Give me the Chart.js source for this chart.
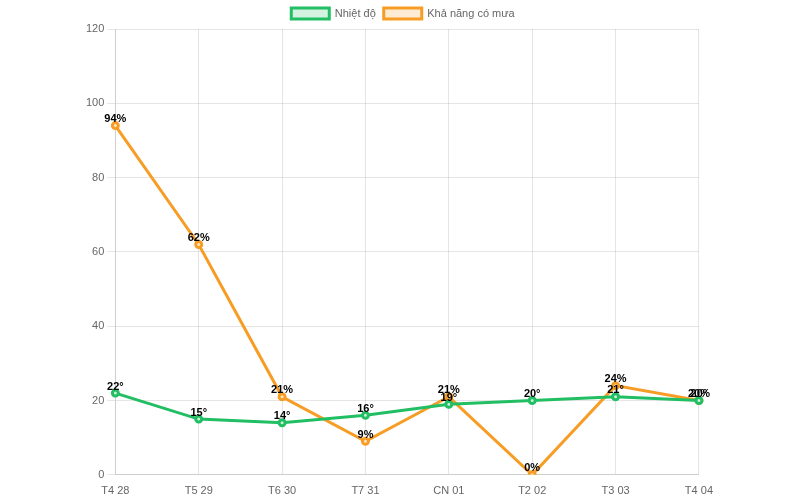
<!DOCTYPE html>
<html>
<head>
<meta charset="utf-8">
<script src="https://cdn.jsdelivr.net/npm/chart.js@4.4.0/dist/chart.umd.min.js"></script>
<style>
  body { margin: 0; background: #fff; overflow: hidden; }
  .chart-box { width: 640px; height: 508px; margin-left: 83px; }
</style>
</head>
<body>
<div class="chart-box"><canvas id="weatherChart"></canvas></div>
<script>
const days = ['T4 28', 'T5 29', 'T6 30', 'T7 31', 'CN 01', 'T2 02', 'T3 03', 'T4 04'];
const temps = [22, 15, 14, 16, 19, 20, 21, 20];
const rainChance = [94, 62, 21, 9, 21, 0, 24, 20];

// draws the value above each point (stand-in for the datalabels plugin)
const pointLabels = {
  id: 'pointLabels',
  afterDatasetsDraw(chart) {
    const ctx = chart.ctx;
    ctx.save();
    ctx.font = 'bold 11px Arial';
    ctx.fillStyle = '#000';
    ctx.textAlign = 'center';
    ctx.textBaseline = 'bottom';
    chart.data.datasets.forEach((ds, i) => {
      const meta = chart.getDatasetMeta(i);
      meta.data.forEach((pt, j) => {
        ctx.fillText(ds.data[j] + ds.suffix, pt.x, pt.y - 1);
      });
    });
    ctx.restore();
  }
};

Chart.defaults.font.size = 11;
Chart.defaults.font.family = 'Arial, "Liberation Sans", sans-serif';

new Chart(document.getElementById('weatherChart'), {
  type: 'line',
  data: {
    labels: days,
    datasets: [
      {
        label: 'Nhiệt độ',
        data: temps,
        suffix: '°',
        borderColor: 'rgb(34, 190, 100)',
        backgroundColor: 'rgba(34, 190, 100, 0.2)',
        pointBackgroundColor: 'rgba(200, 240, 215, 1)',
        borderWidth: 3,
        pointRadius: 3
      },
      {
        label: 'Khả năng có mưa',
        data: rainChance,
        suffix: '%',
        borderColor: 'rgb(247, 157, 38)',
        backgroundColor: 'rgba(247, 157, 38, 0.2)',
        pointBackgroundColor: 'rgba(253, 230, 200, 1)',
        borderWidth: 3,
        pointRadius: 3
      }
    ]
  },
  options: {
    responsive: true,
    maintainAspectRatio: false,
    animation: false,
    plugins: {
      legend: { labels: { color: '#666', boxWidth: 38, padding: 8 } }
    },
    scales: {
      y: {
        min: 0,
        max: 120,
        ticks: { stepSize: 20, color: '#666' }
      },
      x: {
        grid: { drawTicks: false },
        ticks: { color: '#666', padding: 10 }
      }
    }
  },
  plugins: [pointLabels]
});
</script>
</body>
</html>
